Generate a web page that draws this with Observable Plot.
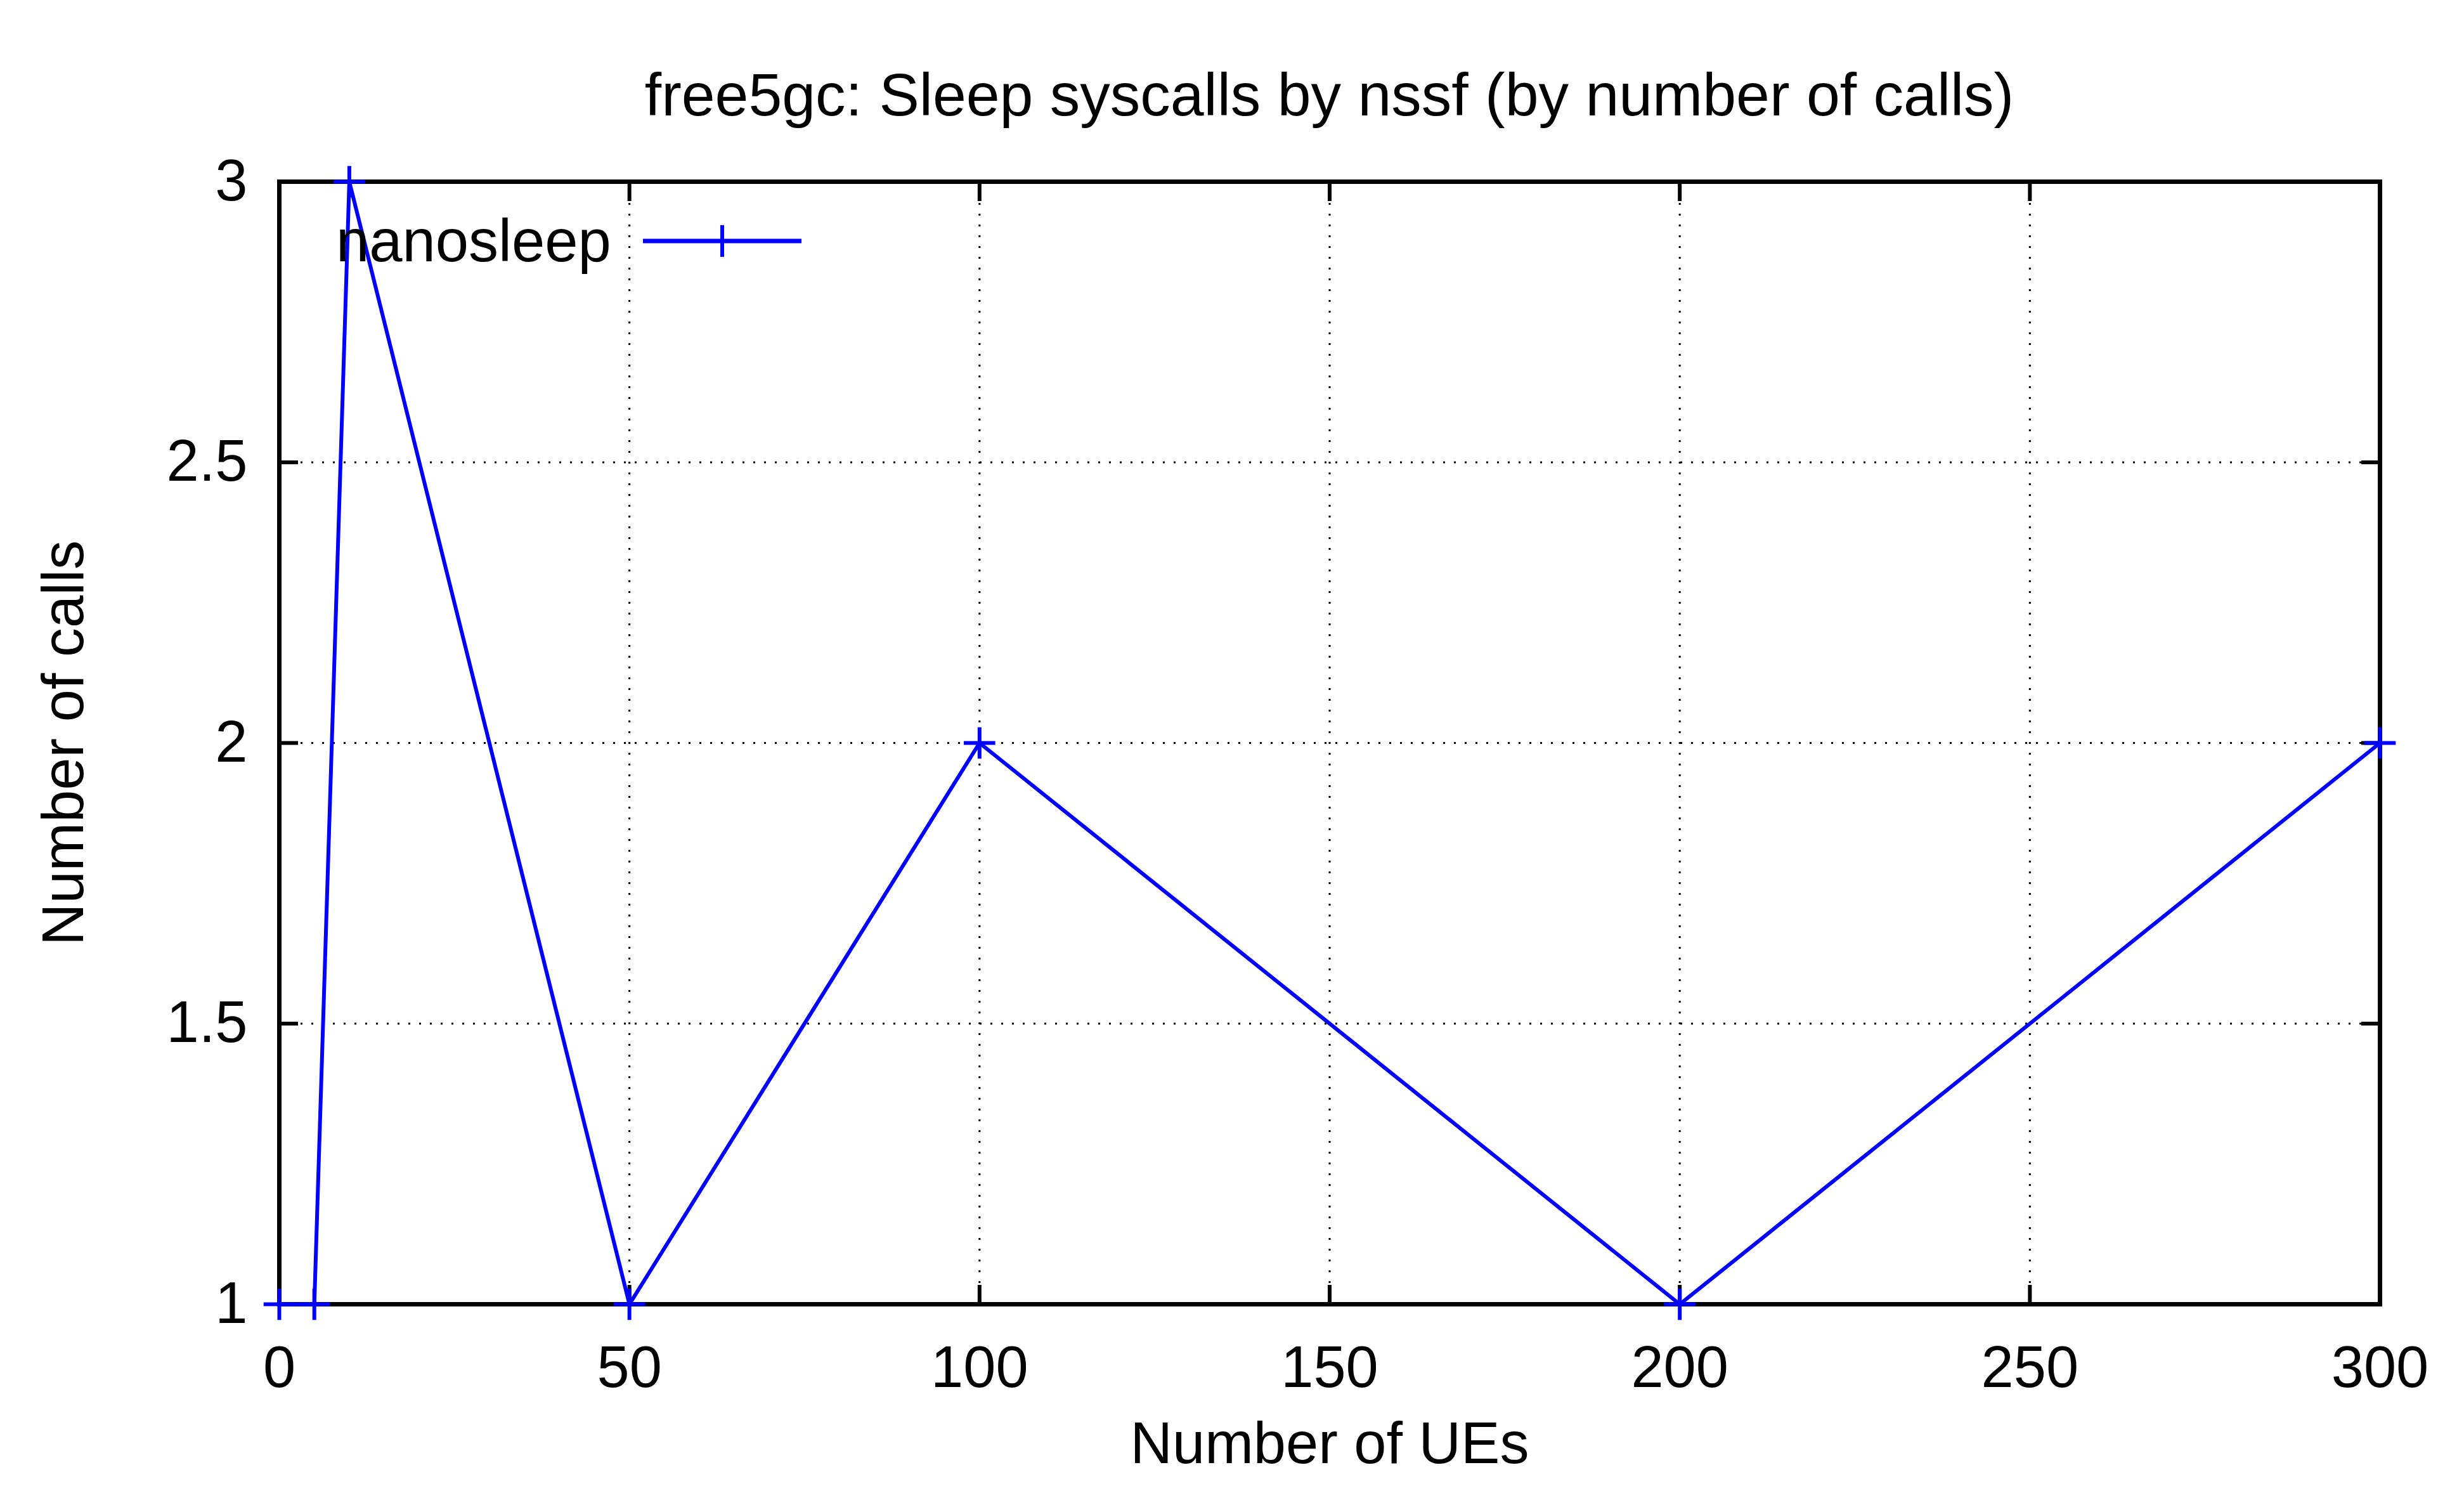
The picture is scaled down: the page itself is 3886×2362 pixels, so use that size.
<!DOCTYPE html>
<html>
<head>
<meta charset="utf-8">
<script src="https://cdn.jsdelivr.net/npm/d3@7"></script>
<script src="https://cdn.jsdelivr.net/npm/@observablehq/plot@0.6"></script>
<style>
  body { margin: 0; background: #fff; font-family: "Liberation Sans", Arial, sans-serif; overflow: hidden; }
  #wrap { position: relative; width: 3886px; height: 2362px; }
  #title { position: absolute; left: 440px; width: 3313px; top: 95px; text-align: center; font-size: 95px; }
  #legend { position: absolute; left: 530px; top: 325px; display: flex; align-items: center; font-size: 94px; }
</style>
</head>
<body>
<div id="wrap">
  <div id="chart"></div>
  <div id="title">free5gc: Sleep syscalls by nssf (by number of calls)</div>
  <div id="legend">
    <span>nanosleep</span>
    <svg width="290" height="110" style="margin-left:40px">
      <line x1="10" x2="260" y1="55" y2="55" stroke="#0000ff" stroke-width="7"></line>
      <line x1="135" x2="135" y1="30" y2="80" stroke="#0000ff" stroke-width="6"></line>
    </svg>
  </div>
</div>
<script>
const ues = [0, 5, 10, 50, 100, 200, 300];
const calls = [1, 1, 3, 1, 2, 1, 2];
const xTicks = [0, 50, 100, 150, 200, 250, 300];
const yTicks = [1, 1.5, 2, 2.5, 3];

const data = ues.map((x, i) => ({x, y: calls[i]}));

const chart = Plot.plot({
  width: 3886,
  height: 2362,
  marginLeft: 440,
  marginRight: 133,
  marginTop: 286,
  marginBottom: 306,
  style: {fontFamily: "Liberation Sans, Arial, sans-serif", fontSize: "92px", color: "black", background: "white"},
  x: {domain: [0, 300]},
  y: {domain: [1, 3]},
  marks: [
    Plot.gridX(xTicks, {stroke: "black", strokeOpacity: 1, strokeWidth: 3, strokeDasharray: "3,14"}),
    Plot.gridY(yTicks, {stroke: "black", strokeOpacity: 1, strokeWidth: 3, strokeDasharray: "3,14"}),
    Plot.axisX(xTicks, {anchor: "bottom", tickSize: -30, tickPadding: 95, strokeWidth: 6,
      label: "Number of UEs", labelAnchor: "center", labelArrow: "none", labelOffset: 250}),
    Plot.axisX(xTicks, {anchor: "top", tickSize: -30, strokeWidth: 6, tickFormat: () => "", label: null}),
    Plot.axisY(yTicks, {anchor: "left", tickSize: -30, tickPadding: 80, strokeWidth: 6, tickFormat: (d) => String(d),
      label: "Number of calls", labelAnchor: "center", labelArrow: "none", labelOffset: 375}),
    Plot.axisY(yTicks, {anchor: "right", tickSize: -30, strokeWidth: 6, tickFormat: () => "", label: null}),
    Plot.frame({stroke: "black", strokeWidth: 7}),
    Plot.line(data, {x: "x", y: "y", stroke: "#0000ff", strokeWidth: 6}),
    Plot.dot(data, {x: "x", y: "y", symbol: "plus", stroke: "#0000ff", strokeWidth: 6, r: 16})
  ]
});
document.getElementById("chart").appendChild(chart);
</script>
</body>
</html>
